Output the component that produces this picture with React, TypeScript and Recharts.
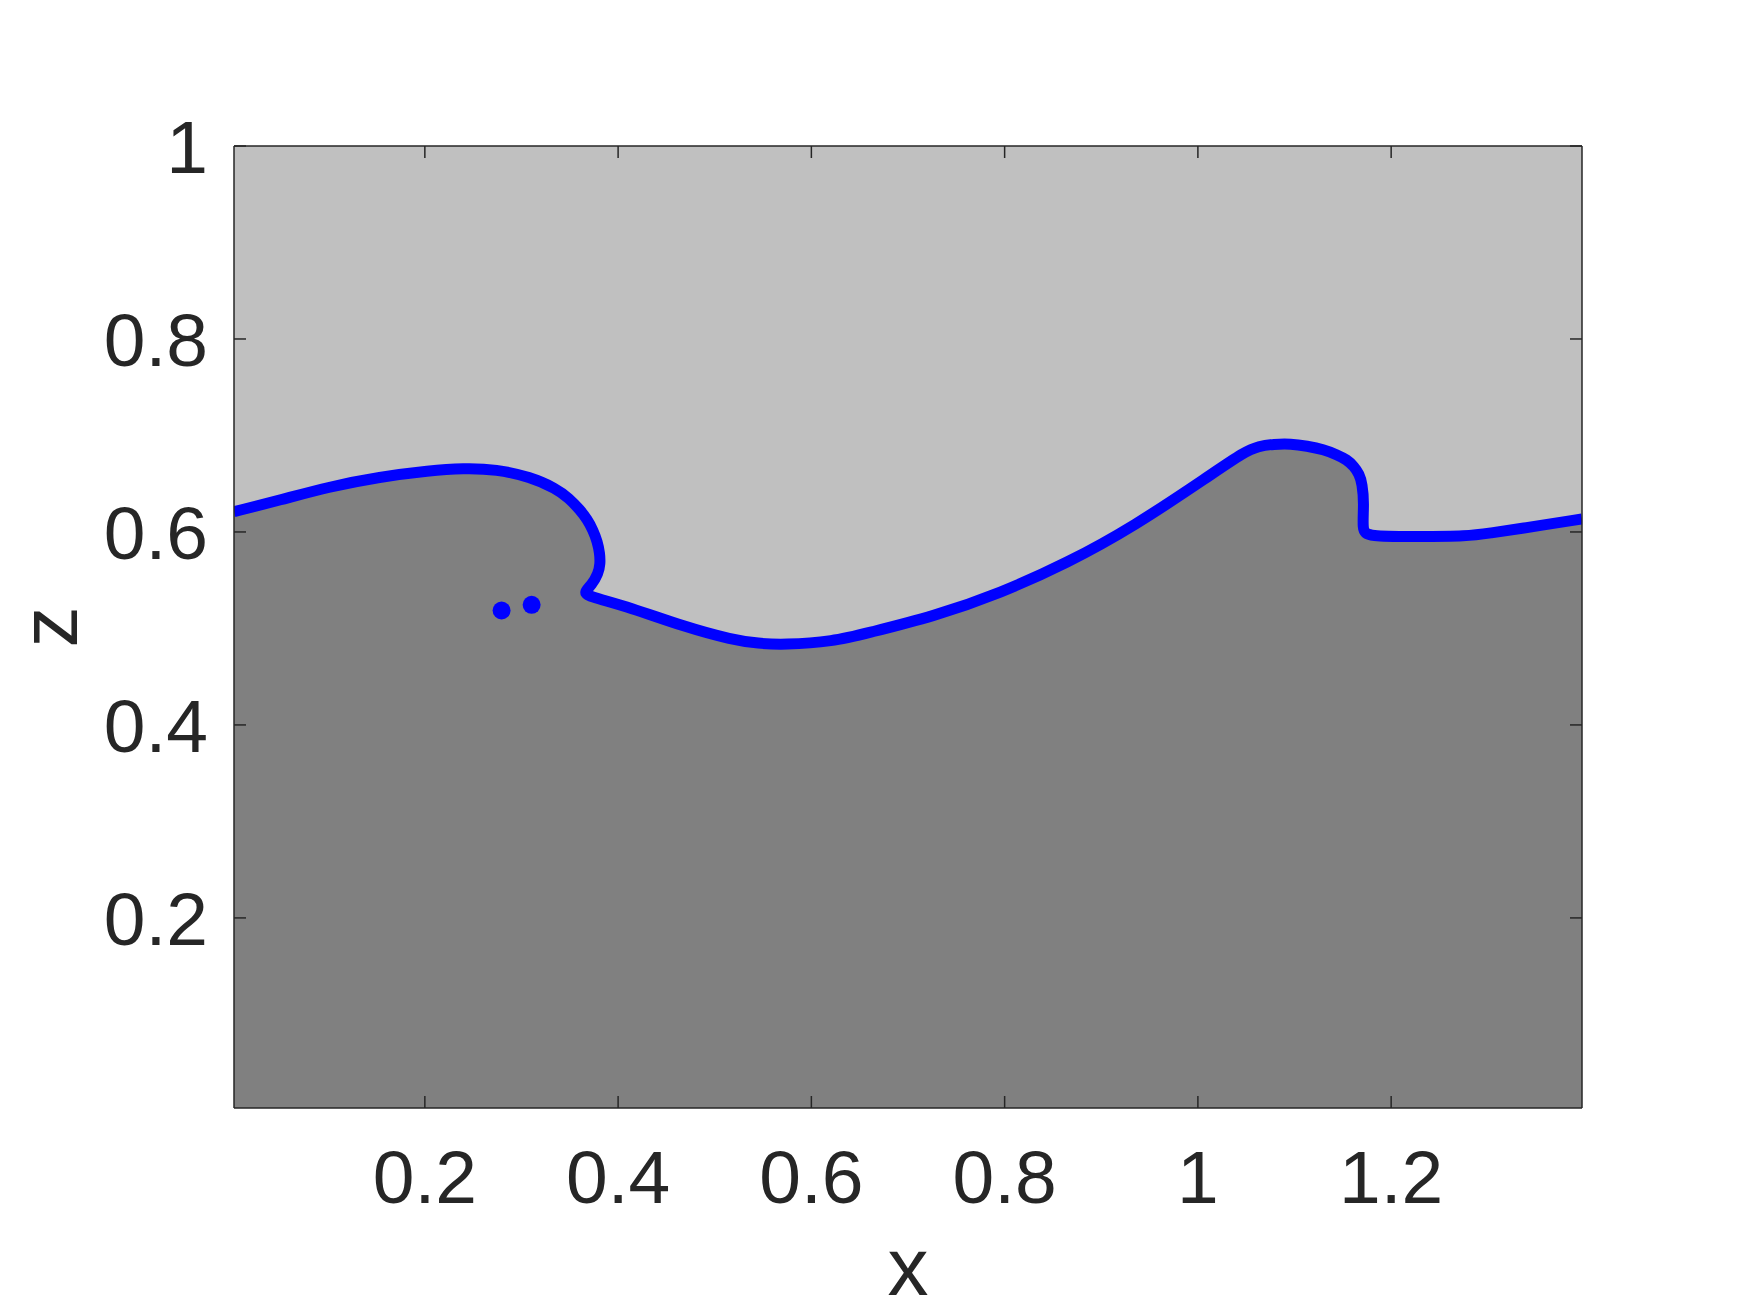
import React from 'react';
import { ComposedChart, Area, Line, Scatter, XAxis, YAxis, CartesianGrid, Label } from 'recharts';

// free surface in order along the curve (it overturns twice)
const surfaceX = [
  0.0025, 0.05, 0.1016, 0.153, 0.205, 0.24, 0.274, 0.309, 0.336, 0.349, 0.3605, 0.368, 0.374, 0.3785,
  0.381, 0.3815, 0.3795, 0.3727, 0.364, 0.3708, 0.412, 0.4676, 0.519, 0.545, 0.571, 0.623, 0.6575,
  0.7265, 0.7955, 0.8646, 0.9336, 1.013, 1.048, 1.063, 1.0786, 1.096, 1.113, 1.13, 1.144, 1.154,
  1.1615, 1.167, 1.17, 1.172, 1.17, 1.175, 1.227, 1.279, 1.303, 1.331, 1.3975,
];
const surfaceZ = [
  0.621, 0.633, 0.647, 0.657, 0.6636, 0.666, 0.665, 0.657, 0.645, 0.635, 0.623, 0.613, 0.602, 0.59,
  0.578, 0.567, 0.557, 0.545, 0.537, 0.533, 0.522, 0.502, 0.488, 0.4845, 0.483, 0.4865, 0.4952,
  0.5124, 0.5366, 0.5677, 0.6056, 0.659, 0.683, 0.689, 0.691, 0.6915, 0.689, 0.6855, 0.68, 0.675,
  0.668, 0.66, 0.65, 0.63, 0.602, 0.5952, 0.5952, 0.5955, 0.599, 0.603, 0.6135,
];

// detached droplets
const dropX = [0.2794, 0.3105];
const dropZ = [0.5186, 0.5245];

const xTicks = [0.2, 0.4, 0.6, 0.8, 1, 1.2];
const zTicks = [0.2, 0.4, 0.6, 0.8, 1];
const xDomain = [0.0025, 1.3975];
const zDomain = [0.003, 1];

const surface = surfaceX.map((x, i) => ({ x, z: surfaceZ[i] }));
const droplets = dropX.map((x, i) => ({ x, z: dropZ[i] }));

const FONT = '"Liberation Sans", Arial, Helvetica, sans-serif';
const INK = '#262626';
const tickStyle = { fontSize: 75, fill: INK, fontFamily: FONT };

const ZLabel = (props: any) => {
  const vb = props.viewBox;
  const cx = vb.x + 77;
  const cy = vb.y + vb.height / 2;
  return (
    <text
      x={cx}
      y={cy}
      transform={`rotate(-90 ${cx} ${cy})`}
      textAnchor="middle"
      fontSize={82}
      fontFamily={FONT}
      fill={INK}
    >
      z
    </text>
  );
};

export default function App() {
  return (
    <div style={{ position: 'absolute', left: 0, top: 0, width: 1750, height: 1313, background: '#fff' }}>
      <ComposedChart width={1750} height={1313} data={surface} margin={{ top: 0, right: 0, bottom: 0, left: 0 }}>
        <CartesianGrid horizontal={false} vertical={false} fill="#c0c0c0" fillOpacity={1} />
        <XAxis
          dataKey="x"
          type="number"
          domain={xDomain}
          ticks={xTicks}
          interval={0}
          allowDataOverflow
          height={205}
          stroke={INK}
          strokeWidth={1.5}
          tickSize={-12}
          tickMargin={54}
          tick={tickStyle}
        >
          <Label value="x" position="insideBottom" offset={18} style={{ fontSize: 82, fill: INK, fontFamily: FONT }} />
        </XAxis>
        <XAxis
          xAxisId="top"
          orientation="top"
          dataKey="x"
          type="number"
          domain={xDomain}
          ticks={xTicks}
          interval={0}
          allowDataOverflow
          height={146}
          stroke={INK}
          strokeWidth={1.5}
          tickSize={-12}
          tickFormatter={() => ''}
        />
        <YAxis
          type="number"
          domain={zDomain}
          ticks={zTicks}
          interval={0}
          allowDataOverflow
          width={234}
          stroke={INK}
          strokeWidth={1.5}
          tickSize={-12}
          tickMargin={38}
          tick={tickStyle}
        >
          <Label content={ZLabel} />
        </YAxis>
        <YAxis
          yAxisId="right"
          orientation="right"
          type="number"
          domain={zDomain}
          ticks={zTicks}
          interval={0}
          allowDataOverflow
          width={168}
          stroke={INK}
          strokeWidth={1.5}
          tickSize={-12}
          tickFormatter={() => ''}
        />
        <Area
          dataKey="z"
          type="basis"
          baseValue={zDomain[0]}
          fill="#808080"
          fillOpacity={1}
          stroke="none"
          isAnimationActive={false}
        />
        <Line
          dataKey="z"
          type="basis"
          stroke="#0000ff"
          strokeWidth={11}
          strokeLinejoin="round"
          strokeLinecap="butt"
          dot={false}
          isAnimationActive={false}
        />
        <Scatter
          data={droplets}
          dataKey="z"
          fill="#0000ff"
          isAnimationActive={false}
          shape={(p: any) => <circle cx={p.cx} cy={p.cy} r={9} fill="#0000ff" />}
        />
      </ComposedChart>
    </div>
  );
}
